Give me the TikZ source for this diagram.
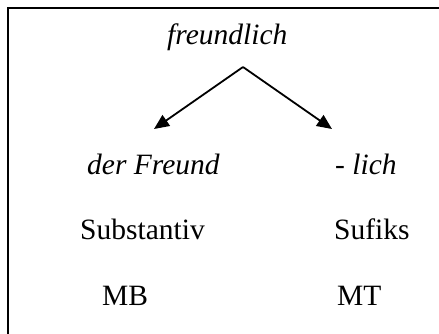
\documentclass[tikz,border=0pt]{standalone}
\usepackage{fontspec}
\setmainfont{Liberation Serif}
\usetikzlibrary{arrows.meta}
\begin{document}
\begin{tikzpicture}[x=1pt,y=-1pt,
  word/.style={anchor=base west, inner sep=0pt, font=\fontsize{29.5}{34}\selectfont},
  itword/.style={word, font=\fontsize{29.5}{34}\selectfont\itshape},
  branch/.style={line width=1.8pt, -{Triangle[length=15pt,width=13pt]}}]
\useasboundingbox (0,0) rectangle (439,334);
% frame, open to the right and bottom
\draw[line width=2.2pt] (8,345) -- (8,8) -- (450,8);
% the derived word and its parts
\node[itword] (root) at (167,45) {freundlich};
\node[itword] (left) at (87,175) {der Freund};
\node[itword] (right) at (335,175) {- lich};
\node[word] (lcat) at (80,239) {Substantiv};
\node[word] (rcat) at (334,239) {Sufiks};
\node[word] (lmorph) at (102,305) {MB};
\node[word] (rmorph) at (337,305) {MT};
% branching arrows
\coordinate (apex) at (243,67);
\coordinate (ltip) at (154,129);
\coordinate (rtip) at (332,129);
\draw[branch] (apex) -- (ltip);
\draw[branch] (apex) -- (rtip);
\end{tikzpicture}
\end{document}
